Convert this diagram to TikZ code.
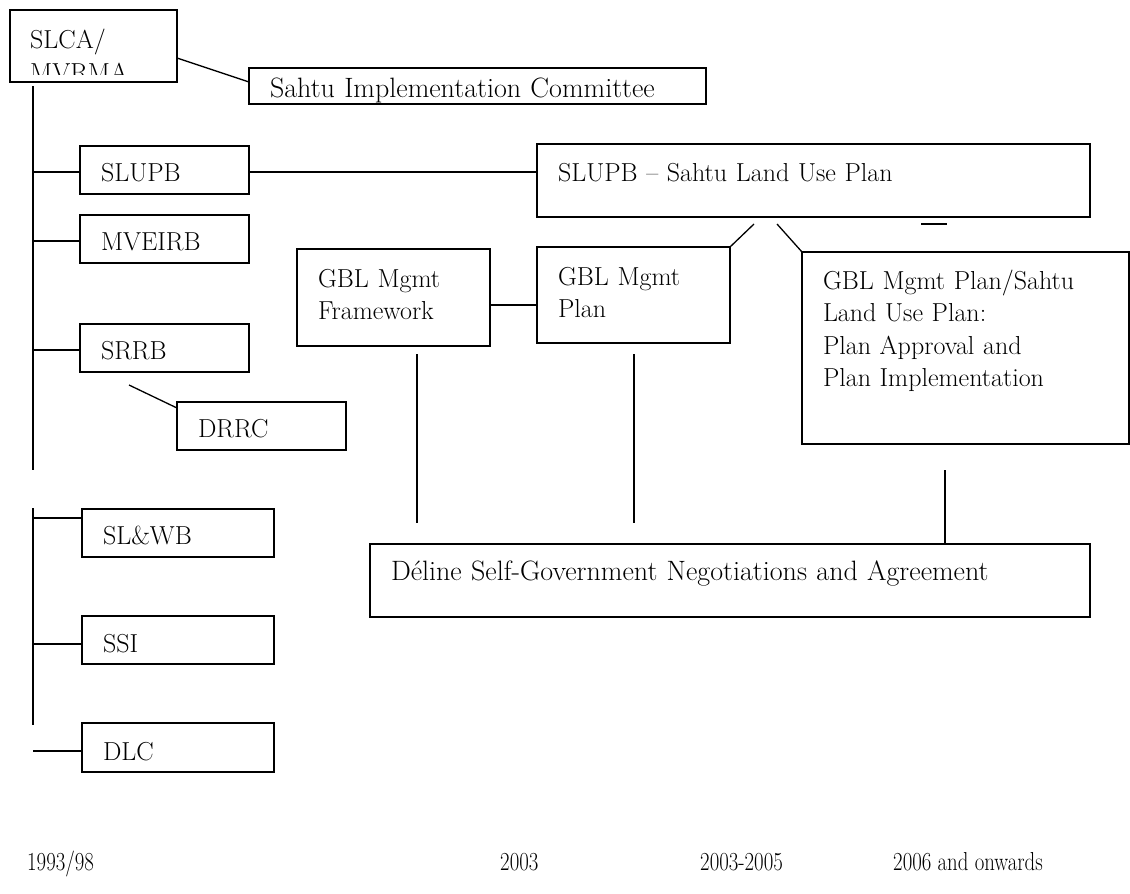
\documentclass[tikz,border=0pt]{standalone}
\usepackage{fontspec}
\usepackage{graphicx}
\usetikzlibrary{positioning}

\tikzset{
  box/.style={draw, line width=1.5pt, rectangle, anchor=north west,
    inner xsep=21pt, inner ysep=0pt, outer sep=0pt, align=left},
  link/.style={line width=1.3pt},
  year/.style={anchor=base west, inner sep=0pt},
}

\begin{document}
\begin{tikzpicture}[x=1pt, y=-1pt, font=\fontsize{26}{32.5}\selectfont]
  \useasboundingbox (0,0) rectangle (1130,894);

  % SLCA box, its second line cut by the frame
  \node[box, minimum width=167pt, minimum height=72pt] (slca) at (10,10) {};
  \begin{scope}
    \clip (10,10) rectangle (177,74);
    \node[year] (slcatop) at (30,48) {SLCA/};
    \node[year] (slcabot) at (30,81) {MVRMA};
  \end{scope}
  \node[box, text width=415pt, text height=29pt, text depth=7pt, font=\fontsize{28}{32.5}\selectfont] (sahtu) at (249,68) {Sahtu Implementation Committee};
  \draw[link] ([yshift=24pt]slca.south east) -- ([yshift=-14pt]sahtu.north west);

  % first trunk
  \coordinate (trunktop) at (33,86);
  \coordinate (trunkbot) at (33,470);
  \draw[link] (trunktop) -- (trunkbot);
  \node[box, text width=127pt, text height=35pt, text depth=13pt] (slupb) at (80,146) {SLUPB};
  \node[box, text width=127pt, text height=35pt, text depth=13pt] (mveirb) at (80,215) {MVEIRB};
  \node[box, text width=127pt, text height=35pt, text depth=13pt] (srrb) at (80,324) {SRRB};
  \node[box, text width=127pt, text height=35pt, text depth=13pt] (drrc) at (177,402) {DRRC};
  \foreach \b in {slupb,mveirb,srrb}
    \draw[link] ([yshift=-26pt]\b.north west) -- ([yshift=-26pt]\b.north west -| trunktop);
  \coordinate (drrcfoot) at (129,385);
  \draw[link] (drrcfoot) -- ([yshift=-6pt]drrc.north west);

  % second trunk
  \coordinate (lowtop) at (33,508);
  \coordinate (lowbot) at (33,725);
  \draw[link] (lowtop) -- (lowbot);
  \node[box, text width=150pt, text height=35pt, text depth=13pt] (slwb) at (82,509) {SL\&WB};
  \node[box, text width=150pt, text height=36pt, text depth=12pt] (ssi) at (82,616) {SSI};
  \node[box, text width=150pt, text height=37pt, text depth=12pt] (dlc) at (82,723) {DLC};
  \draw[link] ([yshift=-9pt]slwb.north west) -- ([yshift=-9pt]slwb.north west -| lowtop);
  \draw[link] ([yshift=-28pt]ssi.north west) -- ([yshift=-28pt]ssi.north west -| lowtop);
  \draw[link] ([yshift=-28pt]dlc.north west) -- ([yshift=-28pt]dlc.north west -| lowtop);

  % plans
  \node[box, text width=511pt, text height=37pt, text depth=36pt] (landuse) at (537,144) {SLUPB -- Sahtu Land Use Plan};
  \draw[link] ([yshift=-26pt]slupb.north east) -- ([yshift=-26pt]slupb.north east -| landuse.west);
  \coordinate (dashA) at (921,224);
  \coordinate (dashB) at (947,224);
  \draw[link] (dashA) -- (dashB);

  \node[box, text width=151pt, text height=38pt, text depth=59pt] (frame) at (297,249) {GBL Mgmt\\Framework};
  \node[box, text width=151pt, text height=38pt, text depth=58pt] (plan) at (537,247) {GBL Mgmt\\Plan};
  \node[box, text width=285pt, text height=37pt, text depth=155pt] (approval) at (802,252) {GBL Mgmt Plan/Sahtu\\Land Use Plan:\\Plan Approval and\\Plan Implementation};
  \draw[link] ([yshift=-56pt]frame.north east) -- ([yshift=-56pt]frame.north east -| plan.west);
  \coordinate (diagL) at (754,224);
  \coordinate (diagR) at (777,224);
  \draw[link] (diagL) -- (plan.north east);
  \draw[link] (diagR) -- (approval.north west);

  % self-government
  \node[box, text width=678pt, text height=36pt, text depth=37pt, font=\fontsize{28}{32.5}\selectfont] (deline) at (370,544) {Déline Self-Government Negotiations and Agreement};
  \coordinate (frameleg) at (417,354);
  \coordinate (framefoot) at (417,523);
  \coordinate (planleg) at (634,354);
  \coordinate (planfoot) at (634,523);
  \coordinate (apprleg) at (945,470);
  \draw[link] (frameleg) -- (framefoot);
  \draw[link] (planleg) -- (planfoot);
  \draw[link] (apprleg) -- (apprleg |- deline.north);

  % time line
  \node[year] (yearA) at (27,870) {\scalebox{0.8}[1]{1993/98}};
  \node[year] (yearB) at (500,870) {\scalebox{0.8}[1]{2003}};
  \node[year] (yearC) at (700,870) {\scalebox{0.8}[1]{2003-2005}};
  \node[year] (yearD) at (893,870) {\scalebox{0.8}[1]{2006 and onwards}};
\end{tikzpicture}
\end{document}
